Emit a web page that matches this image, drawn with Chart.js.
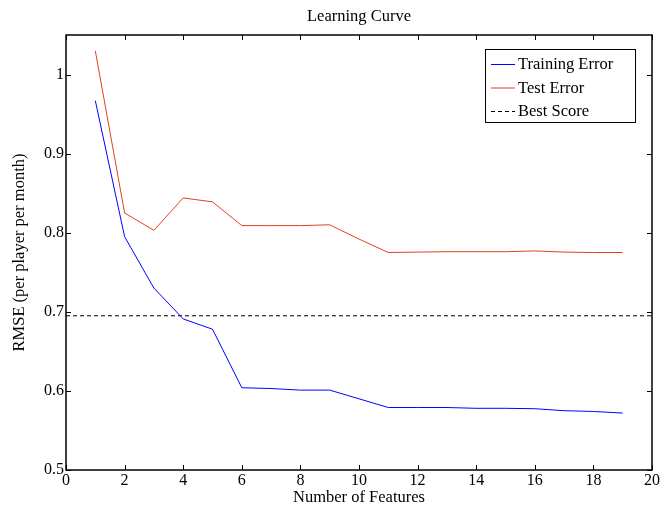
<!DOCTYPE html>
<html>
<head>
<meta charset="utf-8">
<script src="https://cdn.jsdelivr.net/npm/chart.js@4"></script>
<style>
  html, body { margin: 0; padding: 0; background: #fff; }
  #wrap { width: 662px; height: 508px; }
</style>
</head>
<body>
<div id="wrap"><canvas id="chart"></canvas></div>
<script>
const features = [1, 2, 3, 4, 5, 6, 7, 8, 9, 10, 11, 12, 13, 14, 15, 16, 17, 18, 19];
const trainingError = [0.967, 0.795, 0.730, 0.691, 0.678, 0.604, 0.603, 0.601, 0.601, 0.590, 0.579, 0.579, 0.579, 0.578, 0.578, 0.5775, 0.575, 0.574, 0.572];
const testError = [1.030, 0.825, 0.803, 0.844, 0.839, 0.809, 0.809, 0.809, 0.810, 0.792, 0.775, 0.7755, 0.776, 0.776, 0.776, 0.777, 0.7755, 0.775, 0.775];
const bestScore = 0.695;
const xRange = [0, 20];
const yTicks = [0.5, 0.6, 0.7, 0.8, 0.9, 1.0];
const chartTitle = 'Learning Curve';

const serif = '"Liberation Serif", "DejaVu Serif", serif';

// box round the plot, with ticks pointing inward on all four sides
const boxPlugin = {
    id: 'box',
    afterDatasetsDraw(chart) {
        const { ctx, chartArea: a, scales } = chart;
        const len = 5;
        ctx.save();
        ctx.strokeStyle = '#000';
        ctx.lineWidth = 1;
        scales.x.ticks.forEach(t => {
            const px = Math.round(scales.x.getPixelForValue(t.value)) + 0.5;
            ctx.beginPath();
            ctx.moveTo(px, a.bottom); ctx.lineTo(px, a.bottom - len);
            ctx.moveTo(px, a.top); ctx.lineTo(px, a.top + len);
            ctx.stroke();
        });
        scales.y.ticks.forEach(t => {
            const py = Math.round(scales.y.getPixelForValue(t.value)) + 0.5;
            ctx.beginPath();
            ctx.moveTo(a.left, py); ctx.lineTo(a.left + len, py);
            ctx.moveTo(a.right, py); ctx.lineTo(a.right - len, py);
            ctx.stroke();
        });
        ctx.lineWidth = 1.5;
        ctx.strokeRect(a.left, a.top, a.right - a.left, a.bottom - a.top);
        ctx.restore();
    }
};

// title centred over the plot area rather than the whole canvas
const titlePlugin = {
    id: 'plotTitle',
    afterDraw(chart) {
        const { ctx, chartArea: a } = chart;
        ctx.save();
        ctx.font = '16.5px ' + serif;
        ctx.fillStyle = '#000';
        ctx.textAlign = 'center';
        ctx.textBaseline = 'middle';
        ctx.fillText(chartTitle, (a.left + a.right) / 2, 17);
        ctx.restore();
    }
};

// legend drawn inside the plot, top right
const legendPlugin = {
    id: 'boxLegend',
    afterDraw(chart) {
        const { ctx, chartArea: a } = chart;
        const w = 150, h = 73;
        const x = a.right - 17 - w, y = a.top + 14;
        ctx.save();
        ctx.fillStyle = '#fff';
        ctx.fillRect(x, y, w, h);
        ctx.strokeStyle = '#000';
        ctx.lineWidth = 1;
        ctx.strokeRect(x + 0.5, y + 0.5, w, h);
        ctx.font = '16.5px ' + serif;
        ctx.textBaseline = 'middle';
        chart.data.datasets.forEach((ds, i) => {
            const ry = y + 15 + i * 23.5;
            ctx.strokeStyle = ds.borderColor;
            ctx.lineWidth = 1;
            ctx.setLineDash(ds.borderDash || []);
            ctx.beginPath();
            ctx.moveTo(x + 6, ry + 0.5);
            ctx.lineTo(x + 30, ry + 0.5);
            ctx.stroke();
            ctx.setLineDash([]);
            ctx.fillStyle = '#000';
            ctx.fillText(ds.label, x + 33, ry + 1);
        });
        ctx.restore();
    }
};

new Chart(document.getElementById('chart'), {
    type: 'line',
    data: {
        datasets: [
            {
                label: 'Training Error',
                data: features.map((f, i) => ({ x: f, y: trainingError[i] })),
                borderColor: '#0000ff',
                borderWidth: 1,
                pointRadius: 0,
                tension: 0
            },
            {
                label: 'Test Error',
                data: features.map((f, i) => ({ x: f, y: testError[i] })),
                borderColor: '#e0421e',
                borderWidth: 1,
                pointRadius: 0,
                tension: 0
            },
            {
                label: 'Best Score',
                data: xRange.map(x => ({ x: x, y: bestScore })),
                borderColor: '#000',
                borderWidth: 1,
                borderDash: [4, 3],
                pointRadius: 0
            }
        ]
    },
    options: {
        responsive: true,
        maintainAspectRatio: false,
        animation: false,
        layout: { padding: { left: 0, right: 10, top: 35, bottom: 0 } },
        scales: {
            x: {
                type: 'linear',
                min: xRange[0],
                max: xRange[1],
                ticks: {
                    stepSize: 2,
                    color: '#000',
                    font: { family: serif, size: 16 },
                    padding: 1,
                    maxRotation: 0
                },
                grid: { display: false, drawTicks: false },
                border: { display: false },
                title: {
                    display: true,
                    text: 'Number of Features',
                    color: '#000',
                    font: { family: serif, size: 16.5 },
                    padding: { top: 0, bottom: 0 }
                },
                afterFit(scale) { scale.height = 38; }
            },
            y: {
                min: 0.5,
                max: 1.05,
                afterBuildTicks(scale) {
                    scale.ticks = yTicks.map(v => ({ value: v }));
                },
                ticks: {
                    color: '#000',
                    font: { family: serif, size: 16 },
                    padding: 2,
                    callback: v => String(Math.round(v * 10) / 10)
                },
                grid: { display: false, drawTicks: false },
                border: { display: false },
                title: {
                    display: true,
                    text: 'RMSE (per player per month)',
                    color: '#000',
                    font: { family: serif, size: 16.5 },
                    padding: { top: 10, bottom: 0 }
                },
                afterFit(scale) { scale.width = 66; }
            }
        },
        plugins: {
            legend: { display: false },
            tooltip: { enabled: false },
            title: { display: false }
        }
    },
    plugins: [boxPlugin, titlePlugin, legendPlugin]
});
</script>
</body>
</html>
